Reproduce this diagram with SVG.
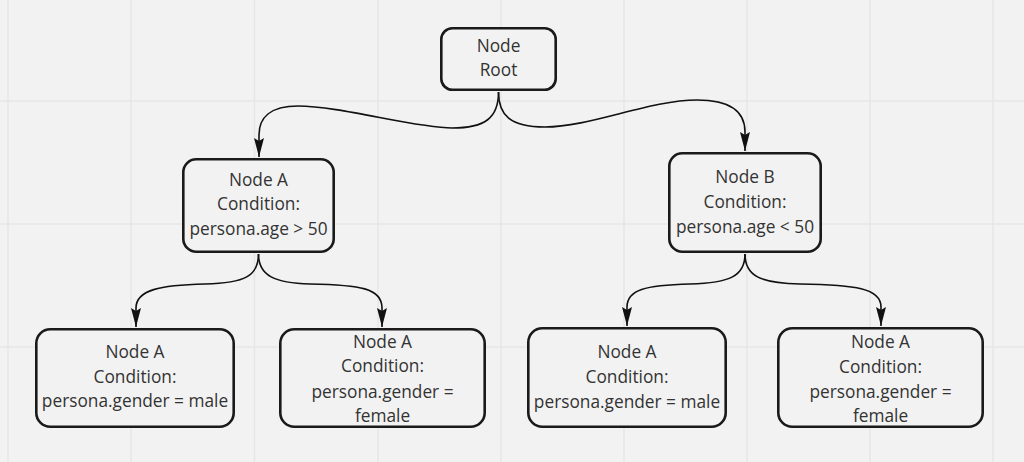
<svg xmlns="http://www.w3.org/2000/svg" width="1024" height="462" viewBox="0 0 1024 462">
  <style>
    .grid line { stroke: #e6e6e6; stroke-width: 1.5; }
    .node rect { fill: #f2f2f2; stroke: #1a1a1a; stroke-width: 2.6; }
    .node text { font-family: "Open Sans", "Noto Sans", sans-serif; font-size: 17.3px; fill: #333333; text-anchor: middle; }
    .conn path { fill: none; stroke: #111111; stroke-width: 1.6; }
  </style>
  <defs>
    <marker id="arrow" viewBox="0 0 19 10" refX="19" refY="5" markerWidth="19" markerHeight="10" markerUnits="userSpaceOnUse" orient="auto">
      <path d="M0,0 L19,5 L0,10 L3,5 Z" fill="#111111"/>
    </marker>
  </defs>
  <rect x="0" y="0" width="1024" height="462" fill="#f2f2f2"/>
  <g class="grid">
    <line x1="8" y1="0" x2="8" y2="462"/>
    <line x1="131" y1="0" x2="131" y2="462"/>
    <line x1="254.5" y1="0" x2="254.5" y2="462"/>
    <line x1="378" y1="0" x2="378" y2="462"/>
    <line x1="501" y1="0" x2="501" y2="462"/>
    <line x1="624" y1="0" x2="624" y2="462"/>
    <line x1="747" y1="0" x2="747" y2="462"/>
    <line x1="870" y1="0" x2="870" y2="462"/>
    <line x1="993" y1="0" x2="993" y2="462"/>
    <line x1="0" y1="101" x2="1024" y2="101"/>
    <line x1="0" y1="224" x2="1024" y2="224"/>
    <line x1="0" y1="347" x2="1024" y2="347"/>
  </g>
  <g id="connectors" class="conn">
    <path d="M498.5,92 C498.5,118 485,128 452,128 C415,128 340,106 298,106 C270,106 259,118 259,135 L259,157" marker-end="url(#arrow)"/>
    <path d="M498.5,92 C498.5,115 510,127 545,127 C590,127 650,100 697,100 C730,100 745,112 745,132 L745,151" marker-end="url(#arrow)"/>
    <path d="M258.5,254 C258.5,276 245,283 205,284 C160,285 136,290 136,308 L136,327" marker-end="url(#arrow)"/>
    <path d="M258.5,254 C258.5,276 275,283 310,284 C360,285 382,288 382,308 L382,327" marker-end="url(#arrow)"/>
    <path d="M745,254 C745,276 730,283 690,284 C645,285 627,290 627,307 L627,326" marker-end="url(#arrow)"/>
    <path d="M745,254 C745,276 760,283 800,284 C855,285 881,288 881,307 L881,326" marker-end="url(#arrow)"/>
  </g>
  <g id="node-root" class="node">
    <rect x="441.3" y="28.3" width="114.4" height="61.4" rx="11"/>
    <text x="498.5" y="52">Node</text>
    <text x="498.5" y="76">Root</text>
  </g>
  <g id="node-a" class="node">
    <rect x="183.3" y="159.3" width="150.4" height="92.4" rx="13"/>
    <text x="258.5" y="186">Node A</text>
    <text x="258.5" y="210">Condition:</text>
    <text x="258.5" y="235">persona.age &gt; 50</text>
  </g>
  <g id="node-b" class="node">
    <rect x="669.3" y="153.3" width="151.4" height="98.4" rx="13"/>
    <text x="745" y="183">Node B</text>
    <text x="745" y="208">Condition:</text>
    <text x="745" y="233">persona.age &lt; 50</text>
  </g>
  <g id="node-a-male" class="node">
    <rect x="36.3" y="329.3" width="197.4" height="97.4" rx="14"/>
    <text x="135" y="358">Node A</text>
    <text x="135" y="383">Condition:</text>
    <text x="135" y="407">persona.gender = male</text>
  </g>
  <g id="node-a-female" class="node">
    <rect x="280.3" y="329.3" width="204.4" height="97.4" rx="14"/>
    <text x="382.5" y="348">Node A</text>
    <text x="382.5" y="372">Condition:</text>
    <text x="382.5" y="398">persona.gender =</text>
    <text x="382.5" y="422">female</text>
  </g>
  <g id="node-b-male" class="node">
    <rect x="528.3" y="328.3" width="197.4" height="98.4" rx="14"/>
    <text x="627" y="358">Node A</text>
    <text x="627" y="383">Condition:</text>
    <text x="627" y="408">persona.gender = male</text>
  </g>
  <g id="node-b-female" class="node">
    <rect x="778.3" y="328.3" width="204.4" height="98.4" rx="14"/>
    <text x="880.5" y="348">Node A</text>
    <text x="880.5" y="373">Condition:</text>
    <text x="880.5" y="398">persona.gender =</text>
    <text x="880.5" y="422">female</text>
  </g>
</svg>
